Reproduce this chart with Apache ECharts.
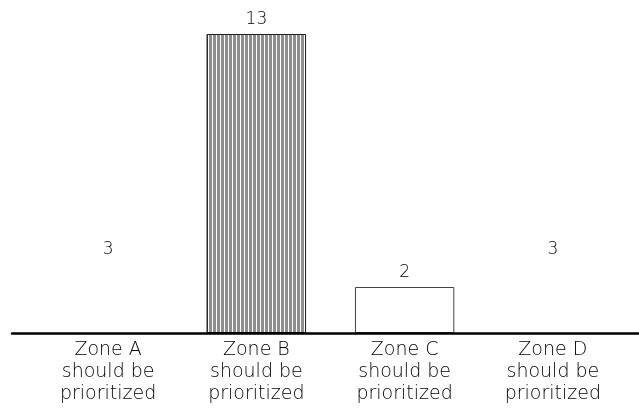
<!DOCTYPE html>
<html>
<head>
<meta charset="utf-8">
<script src="https://cdn.jsdelivr.net/npm/echarts@6/dist/echarts.min.js"></script>
<style>
  html, body { margin: 0; padding: 0; background: #fff; }
  #chart { width: 639px; height: 417px; }
</style>
</head>
<body>
<div id="chart"></div>
<script>
// Zones and the count for each
const categories = [
  'Zone A\nshould be\nprioritized',
  'Zone B\nshould be\nprioritized',
  'Zone C\nshould be\nprioritized',
  'Zone D\nshould be\nprioritized'
];
const counts = [3, 13, 2, 3];

const FONT = '"DejaVu Sans", sans-serif';

// Per-bar styling: A and D are blank, B is striped, C is outlined
const barStyles = [
  { color: 'rgba(255,255,255,0)', borderWidth: 0 },
  {
    color: '#8e8e8e',
    borderColor: '#222',
    borderWidth: 1,
    decal: {
      symbol: 'rect',
      color: '#ffffff',
      dashArrayX: [[1, 3]],
      dashArrayY: [10, 0],
      symbolSize: 1,
      rotation: 0
    }
  },
  { color: '#ffffff', borderColor: '#444', borderWidth: 1 },
  { color: 'rgba(255,255,255,0)', borderWidth: 0 }
];

const chart = echarts.init(document.getElementById('chart'), null, { renderer: 'canvas' });

chart.setOption({
  animation: false,
  backgroundColor: '#ffffff',
  grid: [
    { left: 34, right: 12, top: 34, bottom: 84 },
    { left: 12, right: 0, top: 34, bottom: 84 }
  ],
  xAxis: [
    {
      type: 'category',
      gridIndex: 0,
      data: categories,
      axisLine: { show: false },
      axisTick: { show: false },
      axisLabel: {
        color: '#000',
        fontFamily: FONT,
        fontWeight: 200,
        fontSize: 19,
        lineHeight: 22,
        margin: 6
      }
    },
    {
      type: 'category',
      gridIndex: 1,
      data: [],
      z: 10,
      axisLine: { show: true, lineStyle: { color: '#000', width: 2.5 } },
      axisTick: { show: false },
      axisLabel: { show: false }
    }
  ],
  yAxis: [
    { type: 'value', gridIndex: 0, min: 0, max: 13, show: false },
    { type: 'value', gridIndex: 1, min: 0, max: 13, show: false }
  ],
  series: [
    {
      type: 'bar',
      xAxisIndex: 0,
      yAxisIndex: 0,
      barWidth: '67%',
      data: counts.map((v, i) => ({ value: v, itemStyle: barStyles[i] })),
      label: {
        show: true,
        position: 'top',
        distance: 6,
        color: '#000',
        fontFamily: FONT,
        fontWeight: 200,
        fontSize: 17
      }
    }
  ]
});
</script>
</body>
</html>
